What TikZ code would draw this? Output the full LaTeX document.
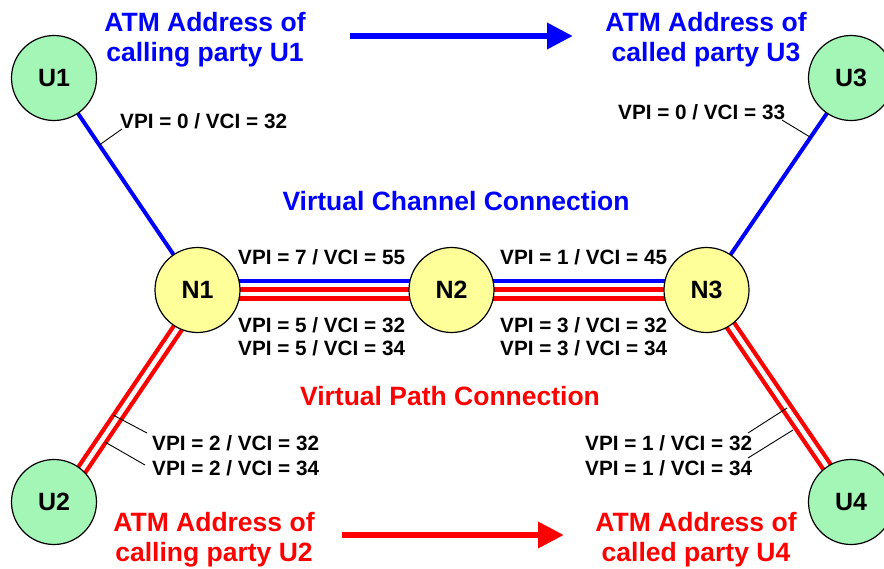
\documentclass[tikz,border=0pt]{standalone}
\usepackage{fontspec}
\setmainfont{Liberation Sans}
\usetikzlibrary{arrows.meta,backgrounds}
\definecolor{ublue}{RGB}{0,0,255}
\definecolor{ured}{RGB}{255,0,0}
\definecolor{ugreen}{RGB}{164,246,182}
\definecolor{nyellow}{RGB}{255,255,153}
\begin{document}
\begin{tikzpicture}[x=1pt,y=-1pt,
 user/.style={circle,draw=black,line width=1.2pt,fill=ugreen,minimum size=85pt,inner sep=0pt,font=\fontsize{25}{28}\selectfont\bfseries},
 switch/.style={user,fill=nyellow},
 vlab/.style={anchor=west,inner sep=0pt,font=\fontsize{20.7}{25}\selectfont\bfseries},
 ttl/.style={align=center,inner sep=0pt,font=\fontsize{26.5}{30}\selectfont\bfseries},
 vcline/.style={draw=ublue,line width=4pt},
 vpline/.style={draw=ured,line width=4.3pt,double=white,double distance=4.5pt},
 tickline/.style={draw=black,line width=0.9pt},
 bigarrow/.style={line width=6.5pt,-{Triangle[length=26pt,width=25pt]}}
]
\useasboundingbox (0,0) rectangle (884,568);

% nodes
\node[user] (U1) at (54,78) {U1};
\node[user] (U3) at (851,78) {U3};
\node[user] (U2) at (54,502) {U2};
\node[user] (U4) at (851,502) {U4};
\node[switch] (N1) at (197.5,290) {N1};
\node[switch] (N2) at (451.5,290) {N2};
\node[switch] (N3) at (706.5,290) {N3};

% connectors behind the nodes
\begin{scope}[on background layer]
\fill[white] (0,0) rectangle (884,568);
\draw[vcline] (U1.center) -- (N1.center);
\draw[vcline] (N3.center) -- (U3.center);
\draw[vcline] ([yshift=9pt]N1.center) -- ([yshift=9pt]N2.center);
\draw[vcline] ([yshift=9pt]N2.center) -- ([yshift=9pt]N3.center);
\draw[vpline] ([yshift=-4pt]N1.center) -- ([yshift=-4pt]N2.center);
\draw[vpline] ([yshift=-4pt]N2.center) -- ([yshift=-4pt]N3.center);
\draw[vpline] ([xshift=6pt]N1.center) -- ([xshift=6pt]U2.center);
\draw[vpline] (N3.center) -- (U4.center);
\end{scope}

% labels
\node[vlab] (l1) at (120,121) {VPI = 0 / VCI = 32};
\node[vlab] (l3) at (618,112) {VPI = 0 / VCI = 33};
\node[vlab] (l12t) at (238,257) {VPI = 7 / VCI = 55};
\node[vlab] (l12a) at (238,325) {VPI = 5 / VCI = 32};
\node[vlab] (l12b) at (238,348) {VPI = 5 / VCI = 34};
\node[vlab] (l23t) at (500,257) {VPI = 1 / VCI = 45};
\node[vlab] (l23a) at (500,325) {VPI = 3 / VCI = 32};
\node[vlab] (l23b) at (500,348) {VPI = 3 / VCI = 34};
\node[vlab] (l2a) at (152,443) {VPI = 2 / VCI = 32};
\node[vlab] (l2b) at (152,468) {VPI = 2 / VCI = 34};
\node[vlab] (l4a) at (585,443) {VPI = 1 / VCI = 32};
\node[vlab] (l4b) at (585,468) {VPI = 1 / VCI = 34};

% pointer ticks
\path (U1.center) -- (N1.center) coordinate[pos=0.316] (k1);
\coordinate (k1e) at (122,129);
\draw[tickline] (k1) -- (k1e);
\path (N3.center) -- (U3.center) coordinate[pos=0.72] (k3);
\coordinate (k3e) at (782,120);
\draw[tickline] (k3) -- (k3e);
\coordinate (k2a) at (113,415);
\coordinate (k2ae) at (147,433);
\coordinate (k2b) at (105,442);
\coordinate (k2be) at (145,465);
\draw[tickline] (k2a) -- (k2ae);
\draw[tickline] (k2b) -- (k2be);
\coordinate (k4a) at (787,408);
\coordinate (k4ae) at (748,433);
\coordinate (k4b) at (793,430);
\coordinate (k4be) at (748,458);
\draw[tickline] (k4a) -- (k4ae);
\draw[tickline] (k4b) -- (k4be);

% titles
\node[ttl,text=ublue] (t1) at (205,40) {ATM Address of\\calling party U1};
\node[ttl,text=ublue] (t3) at (706,40) {ATM Address of\\called party U3};
\node[ttl,text=ured] (t2) at (214,540) {ATM Address of\\calling party U2};
\node[ttl,text=ured] (t4) at (696,540) {ATM Address of\\called party U4};
\node[ttl,text=ublue] (vcc) at (456,201) {Virtual Channel Connection};
\node[ttl,text=ured] (vpc) at (450,396) {Virtual Path Connection};

% arrows
\coordinate (b1) at (350,36);
\coordinate (b2) at (573,36);
\draw[bigarrow,ublue] (b1) -- (b2);
\coordinate (r1) at (342,535);
\coordinate (r2) at (564,535);
\draw[bigarrow,ured] (r1) -- (r2);
\end{tikzpicture}
\end{document}
